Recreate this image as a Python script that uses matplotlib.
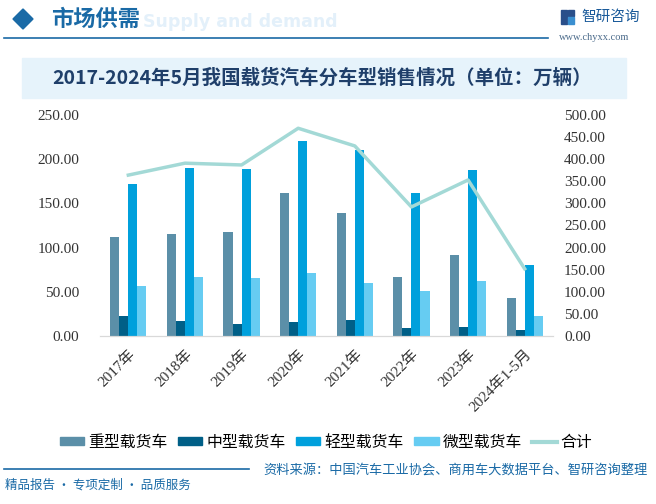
import numpy as np
import matplotlib
matplotlib.use('Agg')
from matplotlib import pyplot as plt
from matplotlib.patches import Rectangle, Polygon
from matplotlib.lines import Line2D

plt.rcParams['font.family'] = ['Noto Sans CJK SC', 'DejaVu Sans']

#data (万辆)
years = ['2017年', '2018年', '2019年', '2020年', '2021年', '2022年', '2023年', '2024年1-5月']
heavy = [112, 115, 118, 162, 139, 67, 92, 43]
medium = [22.6, 17, 13.6, 16, 18, 9, 10.5, 7]
light = [172, 190, 189, 220.6, 210, 162, 188, 80]
micro = [56.6, 67, 66, 71, 60, 51, 62, 22.6]
total = [364, 391, 387, 470, 430, 292, 353, 152]

names = ['重型载货车', '中型载货车', '轻型载货车', '微型载货车', '合计']
colors = ['#5b8fa8', '#005f87', '#00a0dc', '#66ccf2', '#a3d9d6']

fig = plt.figure(figsize=(6.56, 5.04), dpi=100)
W, H = 656, 504

def fx(px):
    return px / W

def fy(py):
    return 1 - py / H

def box(x0, y0, w, h, c, z=1):
    # rectangle in pixel coords from the top-left corner
    fig.patches.append(Rectangle((fx(x0), fy(y0 + h)), w / W, h / H, transform=fig.transFigure,
                                 color=c, zorder=z))

# header
fig.patches.append(Polygon([[fx(13), fy(19)], [fx(23), fy(9)], [fx(33), fy(19)], [fx(23), fy(29)]],
                           closed=True, transform=fig.transFigure, color='#1a6aa6'))
fig.text(fx(143), fy(22), 'Supply and demand', fontsize=12.5, color='#e3f0fa', fontweight='bold',
         va='center', ha='left', family='DejaVu Sans')
fig.text(fx(51), fy(19), '市场供需', fontsize=16, color='#1a6aa6', va='center', ha='left',
         fontweight='bold')
fig.add_artist(Line2D([fx(4), fx(548)], [fy(38), fy(38)], color='#1a6aa6', lw=1.2,
                      transform=fig.transFigure))
# logo
box(561, 10, 6, 14, '#2a4f8a')
box(568, 10, 6, 6, '#2a4f8a')
box(568, 17, 6, 7, '#3a8fd0')
fig.text(fx(581), fy(17), '智研咨询', fontsize=10.5, color='#1a5a9a', va='center', ha='left')
fig.text(fx(559), fy(37), 'www.chyxx.com', fontsize=7.5, color='#4a6a8a', va='center', ha='left',
         family='Liberation Serif')

# title band
box(22, 58, 604, 40, '#e6f3fb', 0)
fig.text(fx(322), fy(78), '2017-2024年5月我国载货汽车分车型销售情况（单位：万辆）', fontsize=14,
         color='#1f3f6a', fontweight='bold', ha='center', va='center')

ax = fig.add_axes([fx(100), fy(336), fx(553 - 100), fy(115) - fy(336)])
ax2 = ax.twinx()

x = np.arange(len(years))
bw = 0.16
for i, vals in enumerate([heavy, medium, light, micro]):
    ax.bar(x + (i - 1.5) * bw, vals, width=bw, color=colors[i], zorder=2)
ax2.plot(x, total, color=colors[4], lw=2.5, zorder=3)

ax.set_xlim(-0.5, len(years) - 0.5)
ax.set_ylim(0, 250)
ax2.set_ylim(0, 500)
ax.set_yticks(np.arange(0, 251, 50))
ax2.set_yticks(np.arange(0, 501, 50))
ax.set_yticklabels(['%.2f' % v for v in np.arange(0, 251, 50)])
ax2.set_yticklabels(['%.2f' % v for v in np.arange(0, 501, 50)])
ax.set_xticks(x)
ax.set_xticklabels(years, rotation=45, ha='right', rotation_mode='anchor')

for a in (ax, ax2):
    for s in ['top', 'left', 'right']:
        a.spines[s].set_visible(False)
    a.spines['bottom'].set_color('#d9d9d9')
    a.tick_params(length=0, labelsize=11, labelcolor='#333333')
    for lab in a.get_yticklabels() + a.get_xticklabels():
        lab.set_family(['Liberation Serif', 'Noto Sans CJK SC'])
ax.tick_params(axis='y', pad=15)
ax.tick_params(axis='x', pad=8)
ax2.tick_params(axis='y', pad=8)
ax.patch.set_visible(False)

handles = [Rectangle((0, 0), 1, 1, color=c) for c in colors[:4]]
handles.append(Line2D([0], [0], color=colors[4], lw=3))
fig.legend(handles, names, loc='center', bbox_to_anchor=(fx(326), fy(442)), ncol=5, frameon=False,
           fontsize=11.4, handlelength=1.55, handleheight=0.35, handletextpad=0.25,
           columnspacing=0.65)

# footer
fig.add_artist(Line2D([fx(4), fx(249)], [fy(469), fy(469)], color='#1a6aa6', lw=1.2,
                      transform=fig.transFigure))
fig.text(fx(648), fy(470), '资料来源：中国汽车工业协会、商用车大数据平台、智研咨询整理', fontsize=9.5,
         color='#1a6aa6', ha='right', va='center')
fig.text(fx(5), fy(485), '精品报告 · 专项定制 · 品质服务', fontsize=9, color='#1a6aa6', ha='left',
         va='center')

fig.savefig('out.png', dpi=100)
